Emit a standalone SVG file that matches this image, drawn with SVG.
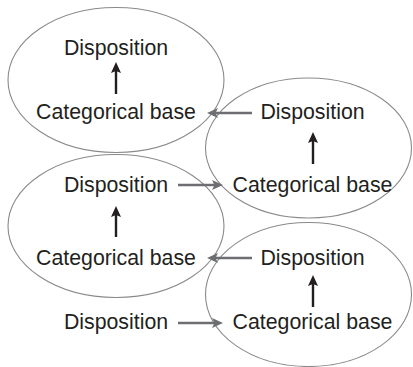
<svg xmlns="http://www.w3.org/2000/svg" width="413" height="367" viewBox="0 0 413 367">
<defs>
<style>
.oval{fill:none;stroke:#8a8a8a;stroke-width:1.1}
.t{font-family:"Liberation Sans",Arial,Helvetica,sans-serif;font-size:21.3px;fill:#231f20;text-anchor:middle}
.up{stroke:#231f20;stroke-width:2.4;fill:none}
.side{stroke:#6d6e71;stroke-width:2.6;fill:none}
</style>
<marker id="hb" markerUnits="userSpaceOnUse" markerWidth="12" markerHeight="10" refX="4" refY="5" orient="auto" viewBox="0 0 12 10">
<path d="M0,0 L11,5 L0,10 L2,5 z" fill="#231f20"/>
</marker>
<marker id="hg" markerUnits="userSpaceOnUse" markerWidth="12" markerHeight="10" refX="4" refY="5" orient="auto" viewBox="0 0 12 10">
<path d="M0,0 L11,5 L0,10 L2.5,5 z" fill="#6d6e71"/>
</marker>
</defs>
<rect width="413" height="367" fill="#ffffff"/>
<g id="node1">
<ellipse class="oval" cx="116" cy="80" rx="108" ry="72.5"/>
<text class="t" x="116" y="55">Disposition</text>
<text class="t" x="116" y="119">Categorical base</text>
</g>
<g id="node2">
<ellipse class="oval" cx="308.5" cy="148" rx="103" ry="70"/>
<text class="t" x="312.5" y="119">Disposition</text>
<text class="t" x="312.5" y="192">Categorical base</text>
</g>
<g id="node3">
<ellipse class="oval" cx="116" cy="226" rx="108" ry="71.5"/>
<text class="t" x="116" y="192">Disposition</text>
<text class="t" x="116" y="265">Categorical base</text>
</g>
<g id="node4">
<ellipse class="oval" cx="308.5" cy="294.5" rx="103" ry="72"/>
<text class="t" x="312.5" y="265">Disposition</text>
<text class="t" x="312.5" y="329">Categorical base</text>
</g>
<g id="node5">
<text class="t" x="116" y="329">Disposition</text>
</g>
<g id="connectors">
<line class="up" x1="116" y1="94" x2="116" y2="69" marker-end="url(#hb)"/>
<line class="up" x1="313" y1="164" x2="313" y2="139" marker-end="url(#hb)"/>
<line class="up" x1="116" y1="237" x2="116" y2="213" marker-end="url(#hb)"/>
<line class="up" x1="313" y1="307" x2="313" y2="282" marker-end="url(#hb)"/>
<line class="side" x1="252" y1="113" x2="214" y2="113" marker-end="url(#hg)"/>
<line class="side" x1="178" y1="185" x2="216" y2="185" marker-end="url(#hg)"/>
<line class="side" x1="252" y1="258" x2="214" y2="258" marker-end="url(#hg)"/>
<line class="side" x1="178" y1="323" x2="216" y2="323" marker-end="url(#hg)"/>
</g>
</svg>
